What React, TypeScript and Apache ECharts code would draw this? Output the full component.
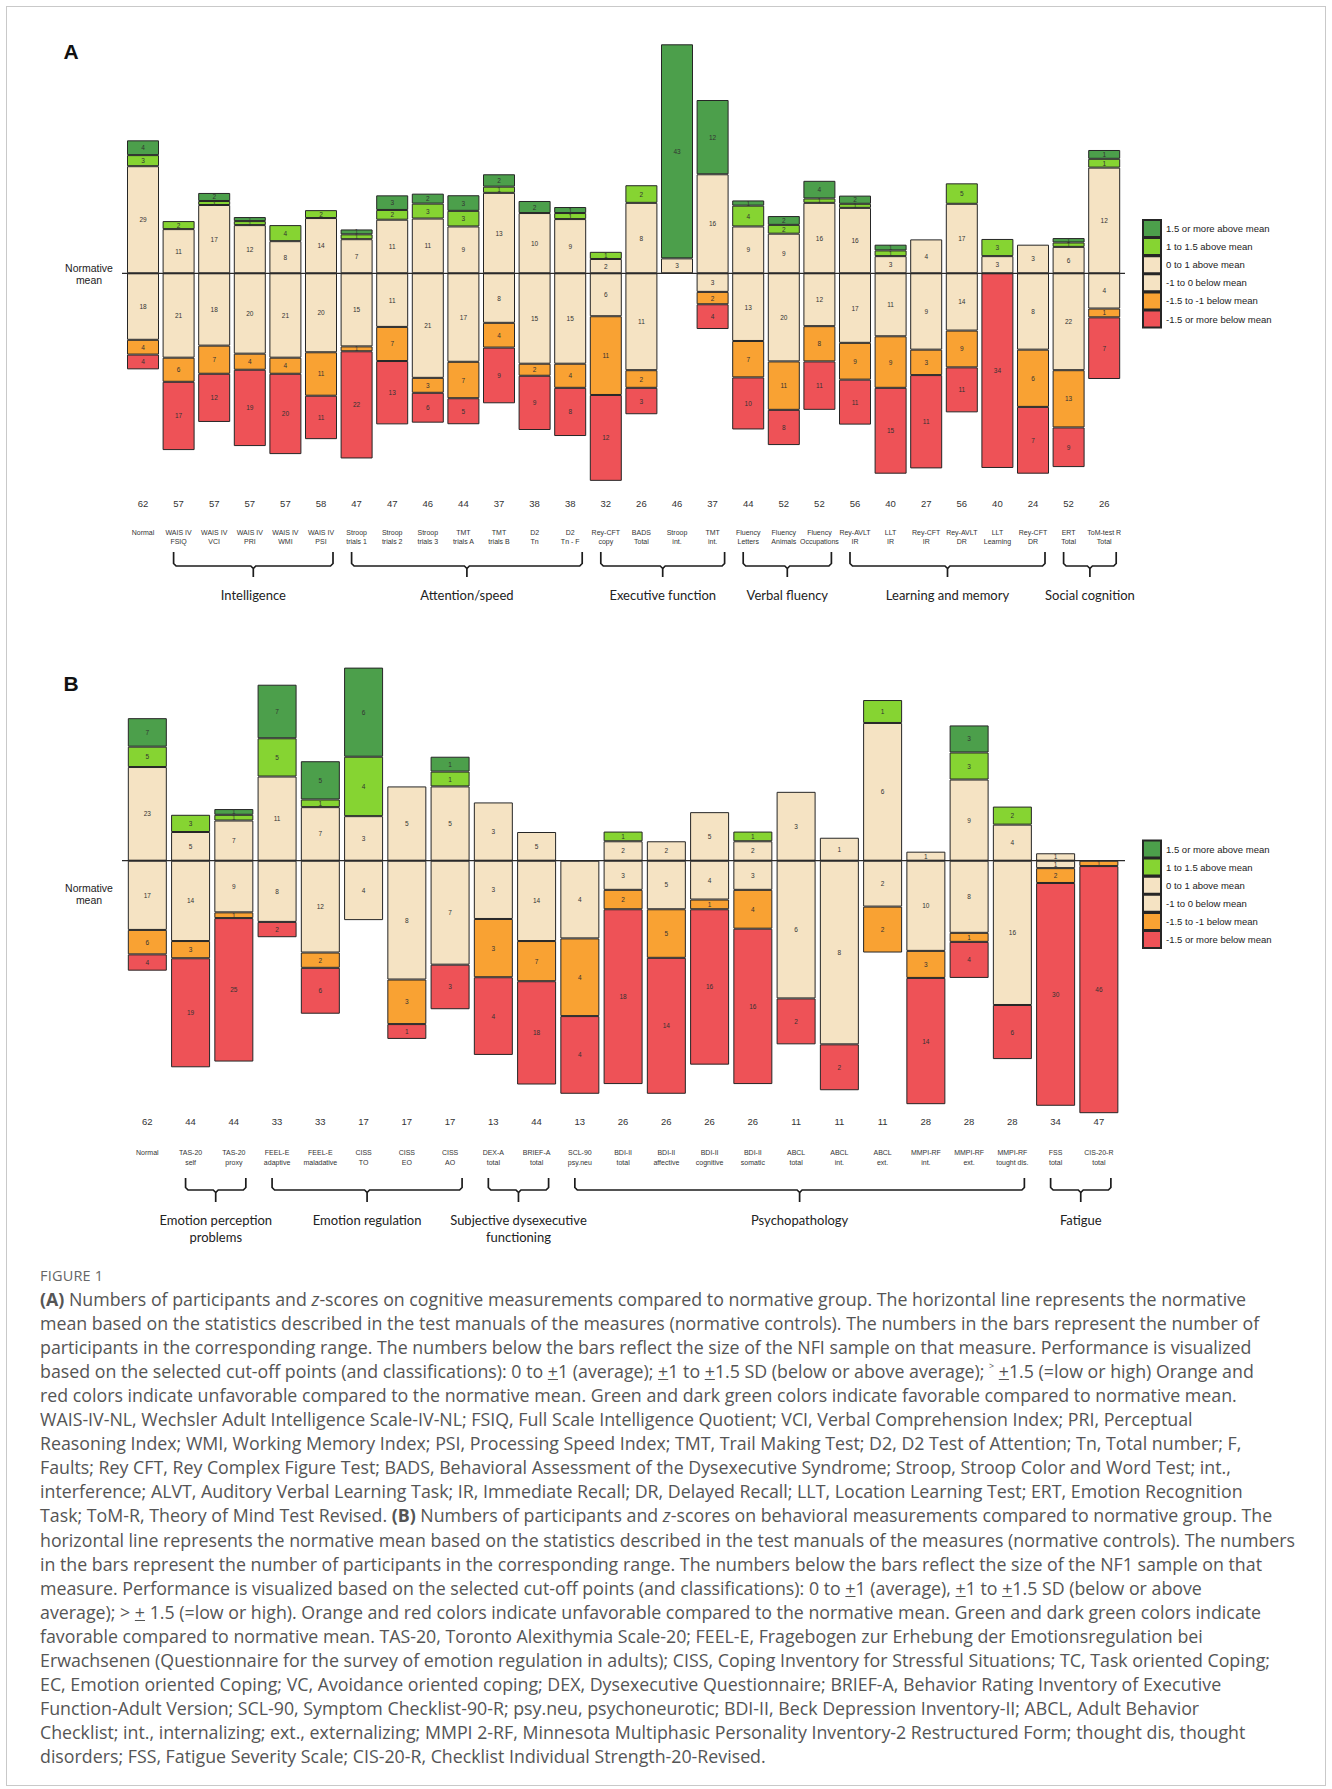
import React, { useEffect, useRef } from "react";
import * as echarts from "echarts";

// ---------------- Panel A: cognitive measures ----------------
const catsA = [
  "Normal", "WAIS IV\nFSIQ", "WAIS IV\nVCI", "WAIS IV\nPRI", "WAIS IV\nWMI", "WAIS IV\nPSI",
  "Stroop\ntrials 1", "Stroop\ntrials 2", "Stroop\ntrials 3", "TMT\ntrials A", "TMT\ntrials B",
  "D2\nTn", "D2\nTn - F", "Rey-CFT\ncopy", "BADS\nTotal", "Stroop\nint.", "TMT\nint.",
  "Fluency\nLetters", "Fluency\nAnimals", "Fluency\nOccupations", "Rey-AVLT\nIR", "LLT\nIR",
  "Rey-CFT\nIR", "Rey-AVLT\nDR", "LLT\nLearning", "Rey-CFT\nDR", "ERT\nTotal", "ToM-test R\nTotal",
];
const nA = [62, 57, 57, 57, 57, 58, 47, 47, 46, 44, 37, 38, 38, 32, 26, 46, 37, 44, 52, 52, 56, 40, 27, 56, 40, 24, 52, 26];
const darkGreenA = [4, 0, 2, 1, 0, 0, 1, 3, 2, 3, 2, 2, 1, 0, 0, 43, 12, 1, 2, 4, 2, 1, 0, 0, 0, 0, 1, 1];
const lightGreenA = [3, 2, 1, 1, 4, 2, 1, 2, 3, 3, 1, 0, 1, 1, 2, 0, 0, 4, 2, 1, 1, 1, 0, 5, 3, 0, 1, 1];
const creamAboveA = [29, 11, 17, 12, 8, 14, 7, 11, 11, 9, 13, 10, 9, 2, 8, 3, 16, 9, 9, 16, 16, 3, 4, 17, 3, 3, 6, 12];
const creamBelowA = [18, 21, 18, 20, 21, 20, 15, 11, 21, 17, 8, 15, 15, 6, 11, 0, 3, 13, 20, 12, 17, 11, 9, 14, 0, 8, 22, 4];
const orangeA = [4, 6, 7, 4, 4, 11, 1, 7, 3, 7, 4, 2, 4, 11, 2, 0, 2, 7, 11, 8, 9, 9, 3, 9, 0, 6, 13, 1];
const redA = [4, 17, 12, 19, 20, 11, 22, 13, 6, 5, 9, 9, 8, 12, 3, 0, 4, 10, 8, 11, 11, 15, 11, 11, 34, 7, 9, 7];
const groupsA = [
  { label: "Intelligence", from: 1, to: 5 },
  { label: "Attention/speed", from: 6, to: 12 },
  { label: "Executive function", from: 13, to: 16 },
  { label: "Verbal fluency", from: 17, to: 19 },
  { label: "Learning and memory", from: 20, to: 25 },
  { label: "Social cognition", from: 26, to: 27 },
];

// ---------------- Panel B: behavioral measures ----------------
const catsB = [
  "Normal", "TAS-20\nself", "TAS-20\nproxy", "FEEL-E\nadaptive", "FEEL-E\nmaladative", "CISS\nTO",
  "CISS\nEO", "CISS\nAO", "DEX-A\ntotal", "BRIEF-A\ntotal", "SCL-90\npsy.neu", "BDI-II\ntotal",
  "BDI-II\naffective", "BDI-II\ncognitive", "BDI-II\nsomatic", "ABCL\ntotal", "ABCL\nint.", "ABCL\next.",
  "MMPI-RF\nint.", "MMPI-RF\next.", "MMPI-RF\ntought dis.", "FSS\ntotal", "CIS-20-R\ntotal",
];
const nB = [62, 44, 44, 33, 33, 17, 17, 17, 13, 44, 13, 26, 26, 26, 26, 11, 11, 11, 28, 28, 28, 34, 47];
const darkGreenB = [7, 0, 1, 7, 5, 6, 0, 1, 0, 0, 0, 0, 0, 0, 0, 0, 0, 0, 0, 3, 0, 0, 0];
const lightGreenB = [5, 3, 1, 5, 1, 4, 0, 1, 0, 0, 0, 1, 0, 0, 1, 0, 0, 1, 0, 3, 2, 0, 0];
const creamAboveB = [23, 5, 7, 11, 7, 3, 5, 5, 3, 5, 0, 2, 2, 5, 2, 3, 1, 6, 1, 9, 4, 1, 0];
const creamBelowB = [17, 14, 9, 8, 12, 4, 8, 7, 3, 14, 4, 3, 5, 4, 3, 6, 8, 2, 10, 8, 16, 1, 0];
const orangeB = [6, 3, 1, 0, 2, 0, 3, 0, 3, 7, 4, 2, 5, 1, 4, 0, 0, 2, 3, 1, 0, 2, 1];
const redB = [4, 19, 25, 2, 6, 0, 1, 3, 4, 18, 4, 18, 14, 16, 16, 2, 2, 0, 14, 4, 6, 30, 46];
const groupsB = [
  { label: "Emotion perception\nproblems", from: 1, to: 2 },
  { label: "Emotion regulation", from: 3, to: 7 },
  { label: "Subjective dysexecutive\nfunctioning", from: 8, to: 9 },
  { label: "Psychopathology", from: 10, to: 20 },
  { label: "Fatigue", from: 21, to: 22 },
];

const legendNames = [
  "1.5 or more above mean",
  "1 to 1.5 above mean",
  "0 to 1 above mean",
  "-1 to 0 below mean",
  "-1.5 to -1 below mean",
  "-1.5 or more below mean",
];

const C_DGREEN = "#4C9F4B";
const C_LGREEN = "#86D432";
const C_CREAM = "#F5E3C3";
const C_ORANGE = "#F9A233";
const C_RED = "#EE5257";
const FONT = "'Liberation Sans', Arial, Helvetica, sans-serif";
const GROUP_FONT = "Lato, 'Open Sans', sans-serif";

function panelSeries(p: number, n: number[], layers: any[], barWidth: number, labelSize: number) {
  return layers.map((L: any) => ({
    type: "bar",
    name: L.name,
    xAxisIndex: p * 2,
    yAxisIndex: p,
    stack: "panel" + p,
    stackStrategy: "samesign",
    barWidth,
    clip: false,
    data: L.counts.map((c: number, i: number) =>
      c > 0 ? { value: (L.sign * c * 100) / n[i], count: c } : "-"
    ),
    itemStyle: { color: L.color, borderColor: "#262626", borderWidth: 1 },
    label: {
      show: true,
      position: "inside",
      formatter: (q: any) => String(q.data.count),
      fontSize: labelSize,
      color: "#333",
      fontFamily: FONT,
    },
    emphasis: { disabled: true },
  }));
}

function layersOf(dg: number[], lg: number[], ca: number[], cb: number[], or: number[], rd: number[]) {
  return [
    { name: legendNames[2], counts: ca, sign: 1, color: C_CREAM },
    { name: legendNames[1], counts: lg, sign: 1, color: C_LGREEN },
    { name: legendNames[0], counts: dg, sign: 1, color: C_DGREEN },
    { name: legendNames[3], counts: cb, sign: -1, color: C_CREAM },
    { name: legendNames[4], counts: or, sign: -1, color: C_ORANGE },
    { name: legendNames[5], counts: rd, sign: -1, color: C_RED },
  ];
}

function catAxis(grid: number, data: string[], margin: number, fontSize: number, lineHeight: number, fmt?: any) {
  return {
    type: "category",
    gridIndex: grid,
    data,
    position: "bottom",
    axisLine: { show: false },
    axisTick: { show: false },
    splitLine: { show: false },
    axisLabel: {
      interval: 0,
      margin,
      fontSize,
      lineHeight,
      color: "#333",
      fontFamily: FONT,
      formatter: fmt,
    },
  };
}

function buildOption() {
  const legendCommon = {
    orient: "vertical",
    left: 1142,
    padding: 0,
    itemWidth: 18,
    itemHeight: 17,
    itemGap: -0.9,
    icon: "rect",
    selectedMode: false,
    data: legendNames,
    textStyle: { fontSize: 9.5, color: "#222", fontFamily: FONT },
  };
  return {
    animation: false,
    backgroundColor: "transparent",
    grid: [
      { left: 125.2, top: 44.3, width: 996.8, height: 439.7 },
      { left: 125.7, top: 658.7, width: 994.8, height: 454.5 },
    ],
    xAxis: [
      catAxis(0, catsA, 44.5, 7, 8.5),
      catAxis(0, catsA, 13, 9.5, 12, (_v: any, i: number) => String(nA[i])),
      catAxis(1, catsB, 35, 7, 9.5),
      catAxis(1, catsB, 2, 9.5, 12, (_v: any, i: number) => String(nB[i])),
    ],
    yAxis: [
      { type: "value", gridIndex: 0, min: -92, max: 100, show: false },
      { type: "value", gridIndex: 1, min: -100, max: 80, show: false },
    ],
    legend: [
      { ...legendCommon, top: 219 },
      { ...legendCommon, top: 839.5 },
    ],
    series: [
      ...panelSeries(0, nA, layersOf(darkGreenA, lightGreenA, creamAboveA, creamBelowA, orangeA, redA), 32, 6.5),
      ...panelSeries(1, nB, layersOf(darkGreenB, lightGreenB, creamAboveB, creamBelowB, orangeB, redB), 39, 6.5),
    ],
  };
}

function braceGraphics(chart: any, xAxisIndex: number, groups: any[], yTop: number, yH: number, ySpike: number, yLabel: number, lh: number) {
  const out: any[] = [];
  const px = (i: number) => chart.convertToPixel({ xAxisIndex }, i) as number;
  groups.forEach((g) => {
    const x0 = px(g.from) - 5;
    const x1 = px(g.to) + 12;
    const xc = (x0 + x1) / 2;
    const r = 2.5;
    const stroke = { stroke: "#1c1c1c", lineWidth: 1.7, fill: "none" };
    out.push({
      type: "polyline",
      z: 100,
      shape: { points: [[x0, yTop], [x0, yH - r], [x0 + r, yH], [xc - r, yH], [xc, yH + r], [xc, ySpike]] },
      style: stroke,
    });
    out.push({
      type: "polyline",
      z: 100,
      shape: { points: [[x1, yTop], [x1, yH - r], [x1 - r, yH], [xc + r, yH], [xc, yH + r]] },
      style: stroke,
    });
    out.push({
      type: "text",
      z: 100,
      x: xc,
      y: yLabel,
      style: {
        text: g.label,
        fontSize: 13,
        fontFamily: GROUP_FONT,
        fill: "#222",
        align: "center",
        verticalAlign: "top",
        lineHeight: lh,
      },
    });
  });
  return out;
}

function buildGraphics(chart: any) {
  const y0A = chart.convertToPixel({ yAxisIndex: 0 }, 0) as number;
  const y0B = chart.convertToPixel({ yAxisIndex: 1 }, 0) as number;
  const g: any[] = [];
  [y0A, y0B].forEach((y) => {
    g.push({
      type: "line",
      z: 100,
      shape: { x1: 122, y1: y, x2: 1125, y2: y },
      style: { stroke: "#2a2a2a", lineWidth: 1.2 },
    });
  });
  g.push({
    type: "text", z: 100, x: 89, y: y0A + 0.5,
    style: { text: "Normative\nmean", fontSize: 10.5, lineHeight: 11.5, fontFamily: FONT, fill: "#222", align: "center", verticalAlign: "middle" },
  });
  g.push({
    type: "text", z: 100, x: 89, y: y0B + 33,
    style: { text: "Normative\nmean", fontSize: 10.5, lineHeight: 12, fontFamily: FONT, fill: "#222", align: "center", verticalAlign: "middle" },
  });
  g.push({
    type: "text", z: 100, x: 71, y: 51,
    style: { text: "A", fontSize: 21, fontWeight: "bold", fontFamily: FONT, fill: "#111", align: "center", verticalAlign: "middle" },
  });
  g.push({
    type: "text", z: 100, x: 71, y: 683,
    style: { text: "B", fontSize: 21, fontWeight: "bold", fontFamily: FONT, fill: "#111", align: "center", verticalAlign: "middle" },
  });
  g.push(...braceGraphics(chart, 0, groupsA, 552, 566, 577, 586, 17));
  g.push(...braceGraphics(chart, 2, groupsB, 1178, 1190, 1202, 1211.5, 17));
  return g;
}

const captionStyle: React.CSSProperties = {
  position: "absolute",
  left: 40,
  whiteSpace: "nowrap",
  fontFamily: "'Open Sans', 'Noto Sans', sans-serif",
  fontSize: 17.8,
  lineHeight: "24px",
  color: "#555",
};

const U = () => <span style={{ textDecoration: "underline" }}>+</span>;

const captionLines: React.ReactNode[] = [
  <><b>(A)</b> Numbers of participants and <i>z</i>-scores on cognitive measurements compared to normative group. The horizontal line represents the normative</>,
  <>mean based on the statistics described in the test manuals of the measures (normative controls). The numbers in the bars represent the number of</>,
  <>participants in the corresponding range. The numbers below the bars reflect the size of the NFI sample on that measure. Performance is visualized</>,
  <>based on the selected cut-off points (and classifications): 0 to <U />1 (average); <U />1 to <U />1.5 SD (below or above average); ˃ <U />1.5 (=low or high) Orange and</>,
  <>red colors indicate unfavorable compared to the normative mean. Green and dark green colors indicate favorable compared to normative mean.</>,
  <>WAIS-IV-NL, Wechsler Adult Intelligence Scale-IV-NL; FSIQ, Full Scale Intelligence Quotient; VCI, Verbal Comprehension Index; PRI, Perceptual</>,
  <>Reasoning Index; WMI, Working Memory Index; PSI, Processing Speed Index; TMT, Trail Making Test; D2, D2 Test of Attention; Tn, Total number; F,</>,
  <>Faults; Rey CFT, Rey Complex Figure Test; BADS, Behavioral Assessment of the Dysexecutive Syndrome; Stroop, Stroop Color and Word Test; int.,</>,
  <>interference; ALVT, Auditory Verbal Learning Task; IR, Immediate Recall; DR, Delayed Recall; LLT, Location Learning Test; ERT, Emotion Recognition</>,
  <>Task; ToM-R, Theory of Mind Test Revised. <b>(B)</b> Numbers of participants and <i>z</i>-scores on behavioral measurements compared to normative group. The</>,
  <>horizontal line represents the normative mean based on the statistics described in the test manuals of the measures (normative controls). The numbers</>,
  <>in the bars represent the number of participants in the corresponding range. The numbers below the bars reflect the size of the NF1 sample on that</>,
  <>measure. Performance is visualized based on the selected cut-off points (and classifications): 0 to <U />1 (average), <U />1 to <U />1.5 SD (below or above</>,
  <>average); &gt; <U /> 1.5 (=low or high). Orange and red colors indicate unfavorable compared to the normative mean. Green and dark green colors indicate</>,
  <>favorable compared to normative mean. TAS-20, Toronto Alexithymia Scale-20; FEEL-E, Fragebogen zur Erhebung der Emotionsregulation bei</>,
  <>Erwachsenen (Questionnaire for the survey of emotion regulation in adults); CISS, Coping Inventory for Stressful Situations; TC, Task oriented Coping;</>,
  <>EC, Emotion oriented Coping; VC, Avoidance oriented coping; DEX, Dysexecutive Questionnaire; BRIEF-A, Behavior Rating Inventory of Executive</>,
  <>Function-Adult Version; SCL-90, Symptom Checklist-90-R; psy.neu, psychoneurotic; BDI-II, Beck Depression Inventory-II; ABCL, Adult Behavior</>,
  <>Checklist; int., internalizing; ext., externalizing; MMPI 2-RF, Minnesota Multiphasic Personality Inventory-2 Restructured Form; thought dis, thought</>,
  <>disorders; FSS, Fatigue Severity Scale; CIS-20-R, Checklist Individual Strength-20-Revised.</>,
];

export default function App() {
  const ref = useRef<HTMLDivElement>(null);
  useEffect(() => {
    const el = ref.current;
    if (!el) return;
    const chart = echarts.init(el, null, { renderer: "svg" });
    chart.setOption(buildOption() as any);
    chart.setOption({ graphic: buildGraphics(chart) } as any);
    return () => chart.dispose();
  }, []);
  return (
    <div style={{ position: "absolute", left: 0, top: 0, width: 1332, height: 1789, background: "#fff", overflow: "hidden" }}>
      <div
        style={{
          position: "absolute", left: 6, top: 6, width: 1320, height: 1780,
          border: "1px solid #c9c9c9", boxSizing: "border-box",
        }}
      />
      <div ref={ref} style={{ position: "absolute", left: 0, top: 0, width: 1332, height: 1262 }} />
      <div
        style={{
          position: "absolute", left: 40, top: 1266, fontFamily: "'Open Sans', 'Noto Sans', sans-serif",
          fontSize: 14.5, color: "#666", letterSpacing: 0.2,
        }}
      >
        FIGURE 1
      </div>
      {captionLines.map((line, i) => (
        <div key={i} style={{ ...captionStyle, top: 1287 + i * 24.05 }}>
          {line}
        </div>
      ))}
    </div>
  );
}
